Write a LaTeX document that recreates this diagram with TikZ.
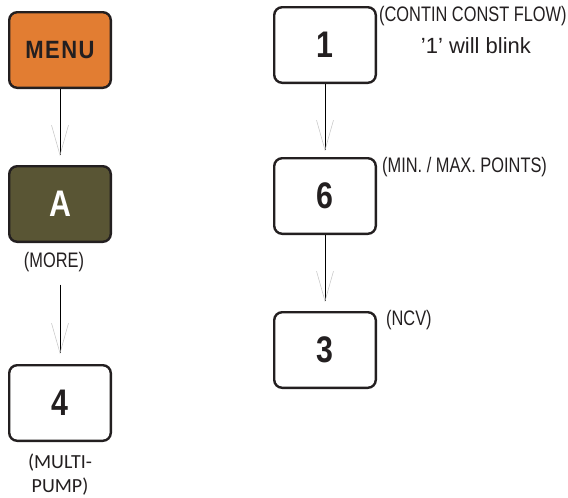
\documentclass[tikz,border=0pt]{standalone}
\usepackage{fontspec}
\setmainfont{Liberation Sans}
\newfontfamily\condfont{Liberation Sans}[FakeStretch=0.78]
\newfontfamily\keyfont{Liberation Sans}[FakeStretch=0.82]
\newfontfamily\menufont{Liberation Sans}[FakeStretch=0.88,LetterSpace=6]
\newfontfamily\pumpfont{Carlito}
\usetikzlibrary{positioning,arrows.meta}

\definecolor{inkgray}{RGB}{35,31,32}
\definecolor{menuorange}{RGB}{226,125,50}
\definecolor{moreolive}{RGB}{89,85,52}
\definecolor{tipgray}{RGB}{195,195,195}

\begin{document}
\begin{tikzpicture}[x=1pt,y=1pt,on grid,
	key/.style={draw=inkgray,line width=2.4pt,rounded corners=8pt,
		minimum width=101.6pt,minimum height=75.6pt,inner sep=0pt,text=inkgray,
		font=\keyfont\bfseries\fontsize{37}{37}\selectfont},
	note/.style={inner sep=0pt,text=inkgray,font=\condfont\fontsize{21}{24}\selectfont},
	flow/.style={line width=0.8pt,
		-{Straight Barb[length=30pt,width=17pt,color=tipgray,line width=0.5pt]}}]
	\useasboundingbox (0,0) rectangle (568,-498);
	% left column
	\node[key,fill=menuorange,font=\menufont\bfseries\fontsize{25}{25}\selectfont] (menu) at (60,-50) {MENU};
	\node[key,fill=moreolive,text=white] (A) [below=154pt of menu] {A};
	\node[note,anchor=base] (more) at ([xshift=-6pt,yshift=-24pt]A.south) {(MORE)};
	\node[key] (four) [below=199pt of A] {4};
	\node[inner sep=0pt,text=inkgray,align=center,font=\pumpfont\fontsize{20}{24}\selectfont]
		(pump) [below=72pt of four] {(MULTI-\\PUMP)};
	% right column
	\node[key] (one) at (325,-45) {1};
	\node[key] (six) [below=151pt of one] {6};
	\node[key] (three) [below=154pt of six] {3};
	\node[note,anchor=base west] (contin) at ([xshift=2pt,yshift=-15pt]one.north east) {(CONTIN CONST FLOW)};
	\node[inner sep=0pt,text=inkgray,anchor=base,font=\fontsize{22}{24}\selectfont]
		(blink) at ([xshift=3pt,yshift=-32pt]contin.base) {'1' will blink};
	\node[note,anchor=base west] (minmax) at ([xshift=5pt,yshift=-15pt]six.north east) {(MIN. / MAX. POINTS)};
	\node[note,anchor=base west] (ncv) at ([xshift=9pt,yshift=-14pt]three.north east) {(NCV)};
\path[flow]
	(menu) edge [shorten >=9pt] (A)
	(more.south -| four) edge [shorten <=13pt,shorten >=10pt] (four)
	(one) edge [shorten >=6pt] (six)
	(six) edge [shorten >=9pt] (three);
\end{tikzpicture}
\end{document}
